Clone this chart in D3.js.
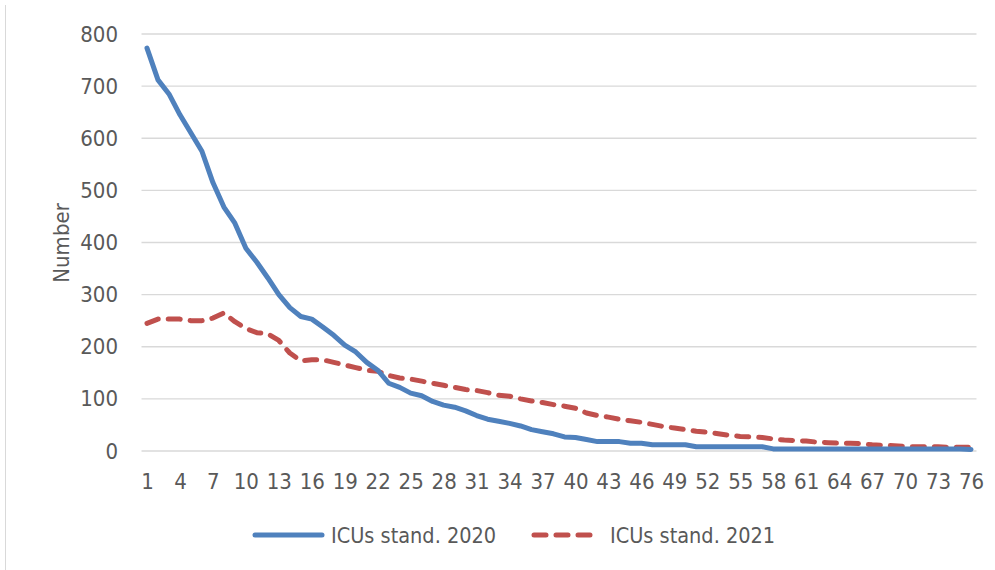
<!DOCTYPE html>
<html><head><meta charset="utf-8">
<script src="https://cdn.jsdelivr.net/npm/d3@7"></script>
<style>
html,body{margin:0;padding:0;background:#fff;}
svg{display:block;}
text{font-family:"DejaVu Sans Condensed","Lato",sans-serif;fill:#595959;}
</style></head>
<body>
<svg id="c" width="995" height="570"></svg>
<script>
const days = d3.range(1, 77);
const xTickLabels = d3.range(1, 77, 3);
const yTicks = [0,100,200,300,400,500,600,700,800];
const seriesNames = ["ICUs stand. 2020", "ICUs stand. 2021"];
const icu2020 = [773,712,685,645,610,575,515,468,437,389,362,332,300,275,258,253,238,222,203,190,
  170,155,130,122,111,106,95,88,84,77,68,61,57,53,48,41,37,33,27,26,
  22,18,18,18,15,15,12,12,12,12,8,8,8,8,8,8,8,4,4,4,
  4,4,4,4,4,4,4,4,4,4,4,4,4,4,4,3];
const icu2021 = [245,253,253,253,250,250,255,265,248,235,227,225,212,188,173,175,175,170,165,160,
  155,153,145,140,138,134,130,126,122,118,116,112,107,105,100,96,93,89,86,82,
  73,68,65,61,58,55,51,47,44,41,38,36,33,30,28,27,26,23,21,20,
  19,17,16,15,15,14,12,11,10,9,8,8,8,7,7,7];

const svg = d3.select("#c");
svg.append("line").attr("x1",5.5).attr("x2",5.5).attr("y1",5).attr("y2",570)
  .attr("stroke","#d9d9d9").attr("stroke-width",1);

const x = d3.scalePoint().domain(days).range([141.5, 976.5]).padding(0.5);
const y = d3.scaleLinear().domain([0, 800]).range([451, 34]);

svg.append("g").selectAll("line").data(yTicks).join("line")
  .attr("x1",141.5).attr("x2",976.5)
  .attr("y1",d=>y(d)).attr("y2",d=>y(d))
  .attr("stroke","#d9d9d9").attr("stroke-width",1.3);

const FONT = '"DejaVu Sans Condensed","Lato",sans-serif';
const yAxis = d3.axisLeft(y).tickValues(yTicks).tickSize(0).tickPadding(0);
const gy = svg.append("g").attr("transform","translate(118,0)").call(yAxis);
gy.select(".domain").remove();
gy.selectAll("text").attr("font-size",22).attr("fill","#595959").style("font-family",FONT);

const xAxis = d3.axisBottom(x).tickValues(xTickLabels).tickSize(0).tickPadding(0);
const gx = svg.append("g").attr("transform","translate(0,473)").call(xAxis);
gx.select(".domain").remove();
gx.selectAll("text").attr("font-size",22).attr("fill","#595959").attr("dy","0.71em").style("font-family",FONT);

svg.append("text").attr("transform","translate(69,243) rotate(-90)")
  .attr("text-anchor","middle").attr("font-size",22).text("Number");

const line = d3.line().x((d,i)=>x(days[i])).y(d=>y(d));
svg.append("path").datum(icu2021).attr("d",line).attr("fill","none")
  .attr("stroke","#C0504D").attr("stroke-width",5)
  .attr("stroke-dasharray","12,10").attr("stroke-linecap","round").attr("stroke-linejoin","round");
svg.append("path").datum(icu2020).attr("d",line).attr("fill","none")
  .attr("stroke","#4F81BD").attr("stroke-width",5)
  .attr("stroke-linecap","round").attr("stroke-linejoin","round");

const leg = svg.append("g");
leg.append("line").attr("x1",255).attr("x2",322).attr("y1",535).attr("y2",535)
  .attr("stroke","#4F81BD").attr("stroke-width",5).attr("stroke-linecap","round");
leg.append("text").attr("x",331).attr("y",535).attr("dy","0.35em").attr("font-size",21.5).text(seriesNames[0]);
leg.append("line").attr("x1",534).attr("x2",598).attr("y1",535).attr("y2",535)
  .attr("stroke","#C0504D").attr("stroke-width",5).attr("stroke-linecap","round")
  .attr("stroke-dasharray","12,10");
leg.append("text").attr("x",610).attr("y",535).attr("dy","0.35em").attr("font-size",21.5).text(seriesNames[1]);
</script>
</body></html>
